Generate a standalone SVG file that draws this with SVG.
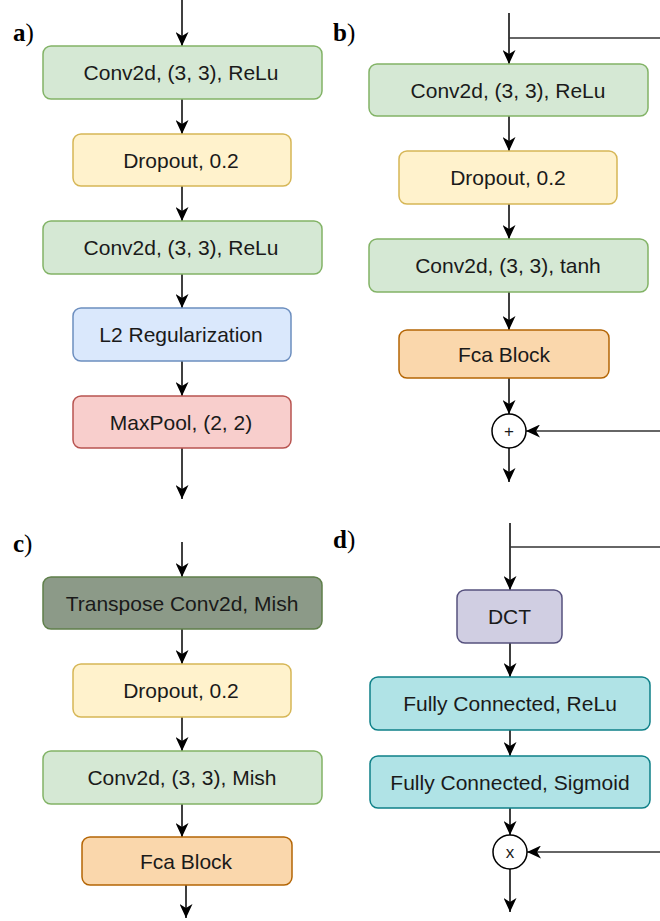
<svg xmlns="http://www.w3.org/2000/svg" width="660" height="921" viewBox="0 0 660 921">
<style>
.box{stroke-width:1.5}
.t{font-family:"Liberation Sans",Arial,sans-serif;font-size:21px;fill:#1a1a1a;text-anchor:middle;dominant-baseline:central}
.lbl{font-family:"Liberation Serif","Times New Roman",serif;font-size:25px;fill:#000}
.g{fill:#d5e8d4;stroke:#82b366}
.y{fill:#fff2cc;stroke:#d6b656}
.b{fill:#dae8fc;stroke:#6c8ebf}
.r{fill:#f8cecc;stroke:#b85450}
.o{fill:#fad7ac;stroke:#b46504}
.dk{fill:#8c9a88;stroke:#5f7f4a}
.p{fill:#d0cee2;stroke:#56517e}
.c{fill:#b0e3e6;stroke:#0e8088}
.e{fill:none;stroke:#000;stroke-width:1.5}
.h{fill:none;stroke:#333;stroke-width:1.5}
.circ{fill:#fff;stroke:#000;stroke-width:1.5}
.sym{font-size:17px}
</style>
<defs>
<marker id="arr" markerUnits="userSpaceOnUse" markerWidth="15" markerHeight="13" viewBox="0 0 15 13" refX="14" refY="6.5" orient="auto">
<path d="M0,0 L14,6.5 L0,13 L4,6.5 Z" fill="#000"/>
</marker>
</defs>

<g id="labels">
<text class="lbl" x="13" y="41"><tspan font-weight="bold">a</tspan>)</text>
<text class="lbl" x="333" y="41"><tspan font-weight="bold">b</tspan>)</text>
<text class="lbl" x="13" y="552"><tspan font-weight="bold">c</tspan>)</text>
<text class="lbl" x="333" y="548"><tspan font-weight="bold">d</tspan>)</text>
</g>

<g id="connectors">
<!-- a -->
<path class="e" d="M182,0 V46" marker-end="url(#arr)"/>
<path class="e" d="M182,99 V134" marker-end="url(#arr)"/>
<path class="e" d="M182,186 V221" marker-end="url(#arr)"/>
<path class="e" d="M182,274 V308" marker-end="url(#arr)"/>
<path class="e" d="M182,361 V396" marker-end="url(#arr)"/>
<path class="e" d="M182,448 V499" marker-end="url(#arr)"/>
<!-- b -->
<path class="e" d="M509,13 V64" marker-end="url(#arr)"/>
<path class="h" d="M509,38 H660"/>
<path class="e" d="M509,116 V151" marker-end="url(#arr)"/>
<path class="e" d="M509,204 V239" marker-end="url(#arr)"/>
<path class="e" d="M509,292 V330" marker-end="url(#arr)"/>
<path class="e" d="M509,378 V414" marker-end="url(#arr)"/>
<path class="h" d="M660,431 H526" marker-end="url(#arr)"/>
<path class="e" d="M509,448 V482" marker-end="url(#arr)"/>
<!-- c -->
<path class="e" d="M182,542 V577" marker-end="url(#arr)"/>
<path class="e" d="M182,629 V664" marker-end="url(#arr)"/>
<path class="e" d="M182,717 V751" marker-end="url(#arr)"/>
<path class="e" d="M182,804 V837" marker-end="url(#arr)"/>
<path class="e" d="M186,885 V918" marker-end="url(#arr)"/>
<!-- d -->
<path class="e" d="M510,523 V590" marker-end="url(#arr)"/>
<path class="h" d="M510,547 H660"/>
<path class="e" d="M510,643 V677" marker-end="url(#arr)"/>
<path class="e" d="M510,730 V756" marker-end="url(#arr)"/>
<path class="e" d="M510,808 V835" marker-end="url(#arr)"/>
<path class="h" d="M660,852 H527" marker-end="url(#arr)"/>
<path class="e" d="M510,869 V912" marker-end="url(#arr)"/>
</g>

<g id="a1"><rect class="box g" x="43" y="46" width="279" height="53" rx="8"/><text class="t" x="181" y="72.5">Conv2d, (3, 3), ReLu</text></g>
<g id="a2"><rect class="box y" x="73" y="134" width="218" height="52" rx="8"/><text class="t" x="181" y="160">Dropout, 0.2</text></g>
<g id="a3"><rect class="box g" x="43" y="221" width="279" height="53" rx="8"/><text class="t" x="181" y="247.5">Conv2d, (3, 3), ReLu</text></g>
<g id="a4"><rect class="box b" x="73" y="308" width="218" height="53" rx="8"/><text class="t" x="181" y="334.5">L2 Regularization</text></g>
<g id="a5"><rect class="box r" x="73" y="396" width="218" height="52" rx="8"/><text class="t" x="181" y="422">MaxPool, (2, 2)</text></g>

<g id="b1"><rect class="box g" x="369" y="64" width="279" height="52" rx="8"/><text class="t" x="508" y="90">Conv2d, (3, 3), ReLu</text></g>
<g id="b2"><rect class="box y" x="399" y="151" width="218" height="53" rx="8"/><text class="t" x="508" y="177.5">Dropout, 0.2</text></g>
<g id="b3"><rect class="box g" x="369" y="239" width="279" height="53" rx="8"/><text class="t" x="508" y="265.5">Conv2d, (3, 3), tanh</text></g>
<g id="b4"><rect class="box o" x="399" y="330" width="210" height="48" rx="8"/><text class="t" x="504" y="354">Fca Block</text></g>
<g id="b5"><circle class="circ" cx="509" cy="431" r="17"/><text class="t sym" x="509" y="431">+</text></g>

<g id="c1"><rect class="box dk" x="43" y="577" width="279" height="52" rx="8"/><text class="t" x="182" y="603">Transpose Conv2d, Mish</text></g>
<g id="c2"><rect class="box y" x="73" y="664" width="218" height="53" rx="8"/><text class="t" x="181" y="690.5">Dropout, 0.2</text></g>
<g id="c3"><rect class="box g" x="43" y="751" width="279" height="53" rx="8"/><text class="t" x="182" y="777.5">Conv2d, (3, 3), Mish</text></g>
<g id="c4"><rect class="box o" x="82" y="837" width="210" height="48" rx="8"/><text class="t" x="186" y="861">Fca Block</text></g>

<g id="d1"><rect class="box p" x="457" y="590" width="105" height="53" rx="8"/><text class="t" x="509.5" y="616.5">DCT</text></g>
<g id="d2"><rect class="box c" x="370" y="677" width="280" height="53" rx="8"/><text class="t" x="510" y="703.5">Fully Connected, ReLu</text></g>
<g id="d3"><rect class="box c" x="370" y="756" width="280" height="52" rx="8"/><text class="t" x="510" y="782">Fully Connected, Sigmoid</text></g>
<g id="d4"><circle class="circ" cx="510" cy="852" r="17"/><text class="t sym" x="510" y="852">x</text></g>
</svg>
